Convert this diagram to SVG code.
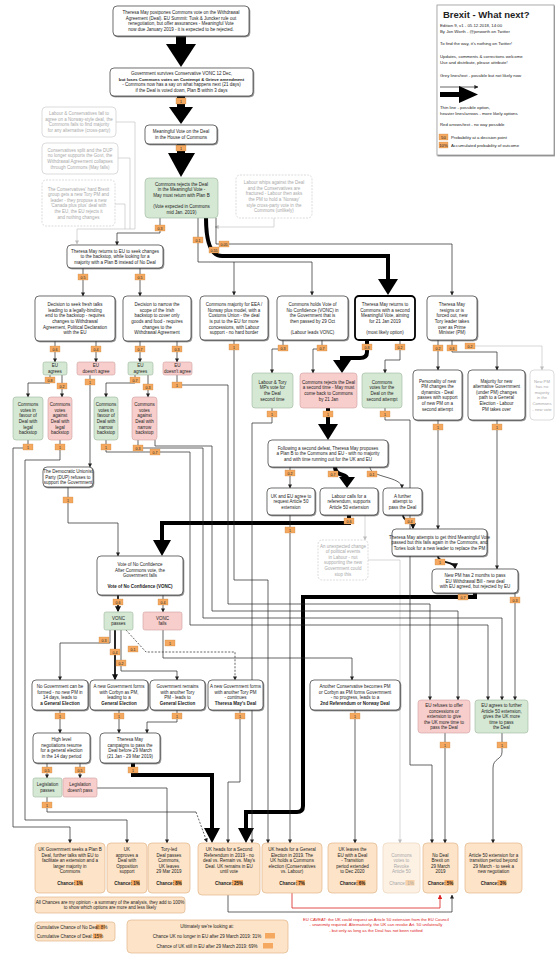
<svg xmlns="http://www.w3.org/2000/svg" width="555" height="957" viewBox="0 0 555 957">
<defs>
<style>
text{font-family:"Liberation Sans",Arial,sans-serif;font-size:4.5px;fill:#222;text-anchor:middle}
.b{font-weight:bold}
.n{fill:#fff;stroke:#333;stroke-width:.7;filter:url(#sh)}
.nt{fill:#fff;stroke:#000;stroke-width:1.8}
.gn{fill:#d5e8d4;stroke:#9bb59a;stroke-width:.6}
.rd{fill:#f8cecc;stroke:#cfa0a0;stroke-width:.6}
.oc{fill:#fde4c8;stroke:#e0b689;stroke-width:.7}
.ocg{fill:#fdf1e4;stroke:#ecd6bd;stroke-width:.7}
.gy{fill:#fff;stroke:#c4c4c4;stroke-width:.6}
.gyd{fill:#fff;stroke:#c4c4c4;stroke-width:.6;stroke-dasharray:2 1.2}
.gt text{fill:#a8a8a8}
.rt{fill:#d22}
.l{fill:none;stroke:#222;stroke-width:.7;marker-end:url(#a)}
.ln{fill:none;stroke:#222;stroke-width:.7}
.ld{fill:none;stroke:#222;stroke-width:.7;stroke-dasharray:2 1.5;marker-end:url(#a)}
.lm{fill:none;stroke:#111;stroke-width:1.8;marker-end:url(#am)}
.lg{fill:none;stroke:#bdbdbd;stroke-width:.6;marker-end:url(#ag)}
.lr{fill:none;stroke:#d22;stroke-width:.8;marker-end:url(#ar)}
.tk{fill:none;stroke:#000;stroke-width:4}
.hd{fill:#000}
.lb rect{fill:#f4a860;stroke:#c8843c;stroke-width:.3}
.lb text{font-size:3.6px;fill:#222}
.hl{fill:#f4a860}
.lt text{text-anchor:start;font-size:4.3px}
</style>
<filter id="sh" x="-10%" y="-10%" width="130%" height="140%"><feDropShadow dx="0.8" dy="0.9" stdDeviation="0.3" flood-color="#444" flood-opacity="0.7"/></filter>
<marker id="a" viewBox="0 0 10 10" refX="9" refY="5" markerWidth="4" markerHeight="4" markerUnits="userSpaceOnUse" orient="auto"><path d="M0,0L10,5L0,10z" fill="#222"/></marker>
<marker id="am" viewBox="0 0 10 10" refX="8" refY="5" markerWidth="6" markerHeight="6" markerUnits="userSpaceOnUse" orient="auto"><path d="M0,0L10,5L0,10z" fill="#111"/></marker>
<marker id="ag" viewBox="0 0 10 10" refX="9" refY="5" markerWidth="4" markerHeight="4" markerUnits="userSpaceOnUse" orient="auto"><path d="M0,0L10,5L0,10z" fill="#bdbdbd"/></marker>
<marker id="ar" viewBox="0 0 10 10" refX="9" refY="5" markerWidth="4.5" markerHeight="4.5" markerUnits="userSpaceOnUse" orient="auto"><path d="M0,0L10,5L0,10z" fill="#d22"/></marker>
</defs>
<rect width="555" height="957" fill="#fff"/>

<g id="connectors">
<rect class="hd" x="176" y="36" width="10" height="10"/><polygon class="hd" points="166,44 196,44 181,67"/>
<rect class="hd" x="177" y="96" width="8" height="12"/><polygon class="hd" points="169,107 193,107 181,124"/>
<rect class="hd" x="177" y="144" width="8" height="10"/><polygon class="hd" points="168,153 195,153 181,177"/>
<path class="ln" style="stroke:#bdbdbd;stroke-width:.6" d="M116,122H135V229M118,158H130V229M115,204H125V229"/>
<path class="lg" d="M135,229H77V244"/>
<path class="lg" d="M274,218V227H215"/>
<path class="lg" d="M465,346H542V370"/>
<path class="lg" d="M365,515V540"/>
<path class="lg" d="M368,560H400V843"/>
<path class="tk" d="M206,218C206,240 210,256 222,256H388V280"/><polygon class="hd" points="378,279 398,279 388,295"/>
<path class="tk" d="M367,340V352Q367,358 360,358H342V361"/><polygon class="hd" points="333,360 351,360 342,373"/>
<path class="tk" d="M328,408V425"/><polygon class="hd" points="318,424 338,424 328,440"/>
<path class="tk" d="M335,467C335,476 347,474 347,478"/><polygon class="hd" points="339,477 355,477 347,488"/>
<path class="tk" d="M349,515V523H162V541"/><polygon class="hd" points="153,540 171,540 162,556"/>
<path class="tk" d="M475,593V597H303V806Q303,812 297,812H246V829"/><polygon class="hd" points="238,828 254,828 246,843"/>
<path class="tk" d="M133,763V775H212V829"/><polygon class="hd" points="204,828 220,828 212,843"/>
<path class="lm" d="M118,595V611"/>
<path class="lm" d="M115,630V679"/>
<path class="lm" d="M403,515C403,522 413,520 413,528"/>
<path class="lm" d="M438,556C438,564 455,561 455,568"/>
<path class="l" d="M160,218V233H117V245"/>
<path class="l" d="M198,218V262H312V295"/>
<path class="l" d="M234,262V295"/>
<path class="l" d="M216,218V244H452V295"/>
<path class="l" d="M83,268V296"/>
<path class="l" d="M140,268V296"/>
<path class="l" d="M55,341V362"/>
<path class="l" d="M96,341V362"/>
<path class="l" d="M140,341V362"/>
<path class="l" d="M177,341V362"/>
<path class="l" d="M50,375V383H28V397"/>
<path class="l" d="M62,375V397"/>
<path class="l" d="M135,375V383H106V397"/>
<path class="l" d="M148,375V397"/>
<path class="l" d="M90,375V467"/>
<path class="l" d="M177,375V385H228V604H430V700"/>
<path class="l" d="M28,440V448H13V827H70V843"/>
<path class="l" d="M60,440V460H25V820H127V843"/>
<path class="l" d="M106,440V452H190V625H488V700"/>
<path class="l" d="M138,440V448H203V618H502V700"/>
<path class="l" d="M155,440V446H212V611H458V700"/>
<path class="l" d="M68,487V523H118V556"/>
<path class="l" d="M163,595V612"/>
<path class="l" d="M110,630V643H60V680"/>
<path class="l" d="M121,630V671H177V680"/>
<path class="ld" d="M126,630L146,652H235V680"/>
<path class="l" d="M163,630V658H352V680"/>
<path class="l" d="M60,710V733"/>
<path class="l" d="M119,710V733"/>
<path class="l" d="M177,710V722H147V733"/>
<path class="l" d="M240,710V782H228V843"/>
<path class="l" d="M355,710V843"/>
<path class="l" d="M47,763V778"/>
<path class="l" d="M80,763V778"/>
<path class="ln" d="M47,797V812H196"/>
<path class="ld" d="M196,812L207,842"/>
<path class="l" d="M97,788H167V843"/>
<path class="l" d="M290,515V843"/>
<path class="l" d="M290,467V488"/>
<path class="l" d="M370,467C370,478 402,476 402,488"/>
<path class="l" d="M438,340V370"/>
<path class="l" d="M452,340V352H497V370"/>
<path class="l" d="M283,340V349H272V373"/>
<path class="l" d="M322,340V349H313V373"/>
<path class="l" d="M400,340V360H385V373"/>
<path class="l" d="M234,340V580H268V843"/>
<path class="l" d="M272,408V423H252V843"/>
<path class="l" d="M385,408V420H410V765H432V843"/>
<path class="l" d="M438,420V529"/>
<path class="l" d="M497,420V569"/>
<path class="l" d="M515,593V700"/>
<path class="l" d="M445,733V843"/>
<path class="l" d="M502,733V752C502,760 493,758 493,768V843"/>
<path class="l" d="M228,893V912H452V895"/>
<path class="lr" d="M292,893V908H440V895"/>
<g class="lb">
<rect x="176" y="98" width="10" height="6"/><text x="181" y="102.5">1</text>
<rect x="176" y="145" width="10" height="6"/><text x="181" y="149.5">1</text>
<rect x="155" y="225" width="10" height="6"/><text x="160" y="229.5">0.3</text>
<rect x="193" y="237" width="10" height="6"/><text x="198" y="241.5">0.1</text>
<rect x="219" y="241" width="10" height="6"/><text x="224" y="245.5">0.05</text>
<rect x="209" y="247" width="10" height="6"/><text x="214" y="251.5">0.55</text>
<rect x="78" y="274" width="10" height="6"/><text x="83" y="278.5">0.5</text>
<rect x="135" y="274" width="10" height="6"/><text x="140" y="278.5">0.5</text>
<rect x="50" y="346" width="10" height="6"/><text x="55" y="350.5">0.6</text>
<rect x="91" y="346" width="10" height="6"/><text x="96" y="350.5">0.4</text>
<rect x="135" y="346" width="10" height="6"/><text x="140" y="350.5">0.7</text>
<rect x="172" y="346" width="10" height="6"/><text x="177" y="350.5">0.3</text>
<rect x="45" y="377" width="10" height="6"/><text x="50" y="381.5">0.8</text>
<rect x="57" y="383" width="10" height="6"/><text x="62" y="387.5">0.2</text>
<rect x="85" y="379" width="10" height="6"/><text x="90" y="383.5">1</text>
<rect x="130" y="377" width="10" height="6"/><text x="135" y="381.5">0.7</text>
<rect x="143" y="384" width="10" height="6"/><text x="148" y="388.5">0.3</text>
<rect x="172" y="382" width="10" height="6"/><text x="177" y="386.5">1</text>
<rect x="23" y="444" width="10" height="6"/><text x="28" y="448.5">1</text>
<rect x="55" y="444" width="10" height="6"/><text x="60" y="448.5">1</text>
<rect x="101" y="444" width="10" height="6"/><text x="106" y="448.5">1</text>
<rect x="133" y="445" width="10" height="6"/><text x="138" y="449.5">0.3</text>
<rect x="150" y="449" width="10" height="6"/><text x="155" y="453.5">0.7</text>
<rect x="63" y="497" width="10" height="6"/><text x="68" y="501.5">1</text>
<rect x="113" y="599" width="10" height="6"/><text x="118" y="603.5">0.6</text>
<rect x="158" y="599" width="10" height="6"/><text x="163" y="603.5">0.4</text>
<rect x="99" y="637" width="10" height="6"/><text x="104" y="641.5">0.3</text>
<rect x="110" y="649" width="10" height="6"/><text x="115" y="653.5">0.4</text>
<rect x="116" y="660" width="10" height="6"/><text x="121" y="664.5">0.2</text>
<rect x="128" y="646" width="10" height="6"/><text x="133" y="650.5">0.1</text>
<rect x="165" y="640" width="10" height="6"/><text x="170" y="644.5">1</text>
<rect x="55" y="713" width="10" height="6"/><text x="60" y="717.5">1</text>
<rect x="114" y="713" width="10" height="6"/><text x="119" y="717.5">1</text>
<rect x="172" y="713" width="10" height="6"/><text x="177" y="717.5">1</text>
<rect x="235" y="713" width="10" height="6"/><text x="240" y="717.5">1</text>
<rect x="350" y="713" width="10" height="6"/><text x="355" y="717.5">1</text>
<rect x="42" y="767" width="10" height="6"/><text x="47" y="771.5">0.5</text>
<rect x="75" y="767" width="10" height="6"/><text x="80" y="771.5">0.5</text>
<rect x="128" y="767" width="10" height="6"/><text x="133" y="771.5">1</text>
<rect x="42" y="802" width="10" height="6"/><text x="47" y="806.5">1</text>
<rect x="285" y="470" width="10" height="6"/><text x="290" y="474.5">0.2</text>
<rect x="328" y="471" width="10" height="6"/><text x="333" y="475.5">0.7</text>
<rect x="367" y="471" width="10" height="6"/><text x="372" y="475.5">0.1</text>
<rect x="285" y="527" width="10" height="6"/><text x="290" y="531.5">1</text>
<rect x="344" y="518" width="10" height="6"/><text x="349" y="522.5">0.6</text>
<rect x="405" y="518" width="10" height="6"/><text x="410" y="522.5">0.4</text>
<rect x="435" y="559" width="10" height="6"/><text x="440" y="563.5">1</text>
<rect x="458" y="594" width="10" height="6"/><text x="463" y="598.5">0.7</text>
<rect x="510" y="597" width="10" height="6"/><text x="515" y="601.5">0.3</text>
<rect x="433" y="345" width="10" height="6"/><text x="438" y="349.5">0.2</text>
<rect x="447" y="345" width="10" height="6"/><text x="452" y="349.5">0.6</text>
<rect x="465" y="343" width="10" height="6"/><text x="470" y="347.5">0.2</text>
<rect x="278" y="345" width="10" height="6"/><text x="283" y="349.5">0.3</text>
<rect x="317" y="345" width="10" height="6"/><text x="322" y="349.5">0.7</text>
<rect x="362" y="344" width="10" height="6"/><text x="367" y="348.5">0.8</text>
<rect x="395" y="344" width="10" height="6"/><text x="400" y="348.5">0.2</text>
<rect x="229" y="344" width="10" height="6"/><text x="234" y="348.5">1</text>
<rect x="267" y="411" width="10" height="6"/><text x="272" y="415.5">1</text>
<rect x="323" y="411" width="10" height="6"/><text x="328" y="415.5">1</text>
<rect x="380" y="411" width="10" height="6"/><text x="385" y="415.5">1</text>
<rect x="433" y="424" width="10" height="6"/><text x="438" y="428.5">1</text>
<rect x="492" y="424" width="10" height="6"/><text x="497" y="428.5">1</text>
<rect x="440" y="742" width="10" height="6"/><text x="445" y="746.5">1</text>
<rect x="497" y="742" width="10" height="6"/><text x="502" y="746.5">1</text>
</g>
</g>

<g id="legend" class="lt">
<rect x="437" y="5" width="117" height="150" fill="#fff" stroke="#999" stroke-width=".8" filter="url(#sh)"/>
<text x="443" y="18" style="font-size:9.5px;font-weight:bold">Brexit - What next?</text>
<text x="440" y="27">Edition 9, v1 - 05.12.2018, 14:00</text>
<text x="440" y="32.5">By Jon Worth - @jonworth on Twitter</text>
<text x="440" y="45">To find the way, it's nothing on Twitter!</text>
<text x="440" y="58">Updates, comments &amp; corrections welcome</text>
<text x="440" y="63.5">Use and distribute, please attribute!</text>
<text x="440" y="77">Grey lines/text - possible but not likely now</text>
<path d="M440,87H478" stroke="#222" stroke-width=".7" marker-end="url(#a)"/>
<rect x="440" y="92" width="20" height="5" fill="#000"/><polygon points="459,86 478,94.5 459,103" fill="#000"/>
<text x="440" y="109">Thin line - possible option,</text>
<text x="440" y="114.5">heavier lines/arrows - more likely options</text>
<text x="440" y="126">Red arrows/text - no way possible</text>
<g class="lb"><rect x="439" y="134" width="9" height="6"/><text x="443.5" y="138.5" style="text-anchor:middle">50</text></g>
<text x="451" y="138.5">Probability at a decision point</text>
<g class="lb"><rect x="439" y="142" width="9" height="6"/><text x="443.5" y="146.5" style="text-anchor:middle">10%</text></g>
<text x="451" y="146.5">Accumulated probability of outcome</text>
</g>

<g id="n1"><rect class="n" x="113" y="6" width="136" height="30" rx="4"/>
<text><tspan x="181" y="14.2">Theresa May postpones Commons vote on the Withdrawal</tspan><tspan x="181" y="19.8">Agreement (Deal). EU Summit: Tusk &amp; Juncker rule out</tspan><tspan x="181" y="25.4">renegotiation, but offer assurances - Meaningful Vote</tspan><tspan x="181" y="31">now due January 2019 - it is expected to be rejected.</tspan></text></g>

<g id="n2"><rect class="n" x="110" y="68" width="143" height="28" rx="4"/>
<text><tspan x="181.5" y="75.2">Government survives Conservative VONC 12 Dec,</tspan><tspan x="181.5" y="80.8" class="b" style="font-size:4.3px">but loses Commons votes on Contempt &amp; Grieve amendment</tspan><tspan x="181.5" y="86.4">- Commons now has a say on what happens next (21 days)</tspan><tspan x="181.5" y="92">if the Deal is voted down, Plan B within 3 days</tspan></text></g>

<g id="n3"><rect class="n" x="145" y="125" width="72" height="19" rx="4"/>
<text><tspan x="181" y="133.3">Meaningful Vote on the Deal</tspan><tspan x="181" y="138.9">in the House of Commons</tspan></text></g>

<g id="n4"><rect class="gn" x="145" y="178" width="73" height="40" rx="4"/>
<text><tspan x="181.5" y="185.6">Commons rejects the Deal</tspan><tspan x="181.5" y="191.2">in the Meaningful Vote -</tspan><tspan x="181.5" y="196.8">May must return with Plan B</tspan><tspan x="181.5" y="208">(Vote expected in Commons</tspan><tspan x="181.5" y="213.6">mid Jan. 2019)</tspan></text></g>

<g id="g1" class="gt"><rect class="gy" x="42" y="107" width="74" height="30" rx="4"/>
<text><tspan x="79" y="115.2">Labour &amp; Conservatives fail to</tspan><tspan x="79" y="120.8">agree on a Norway-style deal, the</tspan><tspan x="79" y="126.4">Commons fails to find majority</tspan><tspan x="79" y="132">for any alternative (cross-party)</tspan></text></g>

<g id="g2" class="gt"><rect class="gy" x="42" y="143" width="76" height="31" rx="4"/>
<text><tspan x="80" y="151.7">Conservatives split and the DUP</tspan><tspan x="80" y="157.3">no longer supports the Govt, the</tspan><tspan x="80" y="162.9">Withdrawal Agreement collapses</tspan><tspan x="80" y="168.5">through Commons (May falls)</tspan></text></g>

<g id="g3" class="gt"><rect class="gyd" x="42" y="180" width="73" height="46" rx="4"/>
<text><tspan x="78.5" y="190.6">The Conservatives' hard Brexit</tspan><tspan x="78.5" y="196.2">group gets a new Tory PM and</tspan><tspan x="78.5" y="201.8">leader - they propose a new</tspan><tspan x="78.5" y="207.4">'Canada plus plus' deal with</tspan><tspan x="78.5" y="213">the EU, the EU rejects it</tspan><tspan x="78.5" y="218.6">and nothing changes</tspan></text></g>

<g id="gr" class="gt"><rect class="gyd" x="236" y="175" width="76" height="43" rx="4"/>
<text><tspan x="274" y="184.1">Labour whips against the Deal</tspan><tspan x="274" y="189.7">and the Conservatives are</tspan><tspan x="274" y="195.3">fractured - Labour then asks</tspan><tspan x="274" y="200.9">the PM to hold a 'Norway'</tspan><tspan x="274" y="206.5">style cross-party vote in the</tspan><tspan x="274" y="212.1">Commons (unlikely)</tspan></text></g>

<g id="d"><rect class="n" x="67" y="245" width="96" height="23" rx="4"/>
<text><tspan x="115" y="252.5">Theresa May returns to EU to seek changes</tspan><tspan x="115" y="258.1">to the backstop, while looking for a</tspan><tspan x="115" y="263.7">majority with a Plan B instead of No Deal</tspan></text></g>

<g id="ra"><rect class="n" x="35" y="296" width="80" height="45" rx="4"/>
<text><tspan x="75" y="306.1">Decision to seek fresh talks</tspan><tspan x="75" y="311.7">leading to a legally-binding</tspan><tspan x="75" y="317.3">end to the backstop - requires</tspan><tspan x="75" y="322.9">changes to Withdrawal</tspan><tspan x="75" y="328.5">Agreement, Political Declaration</tspan><tspan x="75" y="334.1">with the EU</tspan></text></g>

<g id="rb"><rect class="n" x="123" y="296" width="68" height="45" rx="4"/>
<text><tspan x="157" y="306.1">Decision to narrow the</tspan><tspan x="157" y="311.7">scope of the Irish</tspan><tspan x="157" y="317.3">backstop to cover only</tspan><tspan x="157" y="322.9">goods and food - requires</tspan><tspan x="157" y="328.5">changes to the</tspan><tspan x="157" y="334.1">Withdrawal Agreement</tspan></text></g>

<g id="rc"><rect class="n" x="200" y="296" width="68" height="44" rx="4"/>
<text><tspan x="234" y="306.1">Commons majority for EEA /</tspan><tspan x="234" y="311.7">Norway plus model, with a</tspan><tspan x="234" y="317.3">Customs Union - the deal</tspan><tspan x="234" y="322.9">is put to the EU for more</tspan><tspan x="234" y="328.5">concessions, with Labour</tspan><tspan x="234" y="334.1">support - no hard border</tspan></text></g>

<g id="rd"><rect class="n" x="277" y="296" width="71" height="44" rx="4"/>
<text><tspan x="312.5" y="306.1">Commons holds Vote of</tspan><tspan x="312.5" y="311.7">No Confidence (VONC) in</tspan><tspan x="312.5" y="317.3">the Government that is</tspan><tspan x="312.5" y="322.9">then passed by 29 Oct</tspan><tspan x="312.5" y="334.1">(Labour leads VONC)</tspan></text></g>

<g id="re"><rect class="nt" x="355" y="296" width="60" height="44" rx="4"/>
<text><tspan x="385" y="306.1">Theresa May returns to</tspan><tspan x="385" y="311.7">Commons with a second</tspan><tspan x="385" y="317.3">Meaningful Vote, aiming</tspan><tspan x="385" y="322.9">for 21 Jan 2019</tspan><tspan x="385" y="334.1">(most likely option)</tspan></text></g>

<g id="rf"><rect class="n" x="427" y="296" width="50" height="44" rx="4"/>
<text><tspan x="452" y="306.1">Theresa May</tspan><tspan x="452" y="311.7">resigns or is</tspan><tspan x="452" y="317.3">forced out, new</tspan><tspan x="452" y="322.9">Tory leader takes</tspan><tspan x="452" y="328.5">over as Prime</tspan><tspan x="452" y="334.1">Minister (PM)</tspan></text></g>

<g id="eua"><rect class="gn" x="43" y="362" width="24" height="13" rx="2"/><text><tspan x="55" y="367.3">EU</tspan><tspan x="55" y="372.9">agrees</tspan></text></g>
<g id="eud"><rect class="rd" x="77" y="362" width="38" height="13" rx="2"/><text><tspan x="96" y="367.3">EU</tspan><tspan x="96" y="372.9">doesn't agree</tspan></text></g>
<g id="eua2"><rect class="gn" x="128" y="362" width="25" height="13" rx="2"/><text><tspan x="140.5" y="367.3">EU</tspan><tspan x="140.5" y="372.9">agrees</tspan></text></g>
<g id="eud2"><rect class="rd" x="163" y="362" width="29" height="13" rx="2"/><text><tspan x="177.5" y="367.3">EU</tspan><tspan x="177.5" y="372.9">doesn't agree</tspan></text></g>

<g id="cga"><rect class="gn" x="13" y="397" width="30" height="43" rx="3"/><text><tspan x="28" y="406.1">Commons</tspan><tspan x="28" y="411.7">votes in</tspan><tspan x="28" y="417.3">favour of</tspan><tspan x="28" y="422.9">Deal with</tspan><tspan x="28" y="428.5">legal</tspan><tspan x="28" y="434.1">backstop</tspan></text></g>
<g id="cra"><rect class="rd" x="48" y="397" width="24" height="43" rx="3"/><text><tspan x="60" y="406.1">Commons</tspan><tspan x="60" y="411.7">votes</tspan><tspan x="60" y="417.3">against</tspan><tspan x="60" y="422.9">Deal with</tspan><tspan x="60" y="428.5">legal</tspan><tspan x="60" y="434.1">backstop</tspan></text></g>
<g id="cgb"><rect class="gn" x="94" y="397" width="24" height="43" rx="3"/><text><tspan x="106" y="406.1">Commons</tspan><tspan x="106" y="411.7">votes in</tspan><tspan x="106" y="417.3">favour of</tspan><tspan x="106" y="422.9">Deal with</tspan><tspan x="106" y="428.5">narrow</tspan><tspan x="106" y="434.1">backstop</tspan></text></g>
<g id="crb"><rect class="rd" x="132" y="397" width="25" height="43" rx="3"/><text><tspan x="144.5" y="406.1">Commons</tspan><tspan x="144.5" y="411.7">votes</tspan><tspan x="144.5" y="417.3">against</tspan><tspan x="144.5" y="422.9">Deal with</tspan><tspan x="144.5" y="428.5">narrow</tspan><tspan x="144.5" y="434.1">backstop</tspan></text></g>

<g id="gl"><rect class="gn" x="252" y="373" width="41" height="35" rx="3"/><text><tspan x="272.5" y="383.7">Labour &amp; Tory</tspan><tspan x="272.5" y="389.3">MPs vote for</tspan><tspan x="272.5" y="394.9">the Deal</tspan><tspan x="272.5" y="400.5">second time</tspan></text></g>
<g id="rm"><rect class="rd" x="300" y="373" width="57" height="35" rx="3"/><text><tspan x="328.5" y="383.7">Commons rejects the Deal</tspan><tspan x="328.5" y="389.3">a second time - May must</tspan><tspan x="328.5" y="394.9">come back to Commons</tspan><tspan x="328.5" y="400.5">by 21 Jan</tspan></text></g>
<g id="gr2"><rect class="gn" x="362" y="373" width="40" height="35" rx="3"/><text><tspan x="382" y="383.7">Commons</tspan><tspan x="382" y="389.3">votes for the</tspan><tspan x="382" y="394.9">Deal on the</tspan><tspan x="382" y="400.5">second attempt</tspan></text></g>

<g id="pers"><rect class="n" x="413" y="370" width="49" height="50" rx="4"/><text><tspan x="437.5" y="382.6">Personality of new</tspan><tspan x="437.5" y="388.2">PM changes the</tspan><tspan x="437.5" y="393.8">dynamics - Deal</tspan><tspan x="437.5" y="399.4">passes with support</tspan><tspan x="437.5" y="405">of new PM on a</tspan><tspan x="437.5" y="410.6">second attempt</tspan></text></g>
<g id="maj"><rect class="n" x="468" y="370" width="57" height="50" rx="4"/><text><tspan x="496.5" y="382.6">Majority for new</tspan><tspan x="496.5" y="388.2">alternative Government</tspan><tspan x="496.5" y="393.8">(under PM) changes</tspan><tspan x="496.5" y="399.4">path to a General</tspan><tspan x="496.5" y="405">Election - Labour</tspan><tspan x="496.5" y="410.6">PM takes over</tspan></text></g>
<g id="gry" class="gt"><rect class="gy" x="530" y="370" width="24" height="50" rx="4"/><text style="font-size:4.2px"><tspan x="542" y="382.6">New PM</tspan><tspan x="542" y="388.2">has no</tspan><tspan x="542" y="393.8">majority</tspan><tspan x="542" y="399.4">in the</tspan><tspan x="542" y="405">Commons</tspan><tspan x="542" y="410.6">- new vote</tspan></text></g>

<g id="central"><rect class="n" x="268" y="440" width="120" height="27" rx="4"/><text><tspan x="328" y="449.5">Following a second defeat, Theresa May proposes</tspan><tspan x="328" y="455.1">a Plan B to the Commons and EU - with no majority</tspan><tspan x="328" y="460.7">and with time running out for the UK and EU</tspan></text></g>

<g id="dup"><rect class="n" x="43" y="467" width="50" height="20" rx="4"/><text><tspan x="68" y="473">The Democratic Unionist</tspan><tspan x="68" y="478.6">Party (DUP) refuses to</tspan><tspan x="68" y="484.2">support the Government</tspan></text></g>

<g id="cl"><rect class="n" x="267" y="488" width="48" height="27" rx="4"/><text><tspan x="291" y="497.5">UK and EU agree to</tspan><tspan x="291" y="503.1">request Article 50</tspan><tspan x="291" y="508.7">extension</tspan></text></g>
<g id="cm"><rect class="n" x="320" y="488" width="58" height="27" rx="4"/><text><tspan x="349" y="497.5">Labour calls for a</tspan><tspan x="349" y="503.1">referendum, supports</tspan><tspan x="349" y="508.7">Article 50 extension</tspan></text></g>
<g id="cr"><rect class="n" x="383" y="488" width="39" height="27" rx="4"/><text><tspan x="402.5" y="497.5">A further</tspan><tspan x="402.5" y="503.1">attempt to</tspan><tspan x="402.5" y="508.7">pass the Deal</tspan></text></g>

<g id="p3"><rect class="n" x="392" y="529" width="95" height="27" rx="4"/><text><tspan x="439.5" y="538.5">Theresa May attempts to get third Meaningful Vote</tspan><tspan x="439.5" y="544.1">passed but this fails again in the Commons, and</tspan><tspan x="439.5" y="549.7">Tories look for a new leader to replace the PM</tspan></text></g>
<g id="np"><rect class="n" x="432" y="569" width="86" height="24" rx="4"/><text><tspan x="475" y="577">New PM has 2 months to pass</tspan><tspan x="475" y="582.6">EU Withdrawal Bill - new deal</tspan><tspan x="475" y="588.2">with EU agreed, but rejected by EU</tspan></text></g>
<g id="gmid" class="gt"><rect class="gyd" x="318" y="540" width="50" height="40" rx="4"/><text><tspan x="343" y="547.6">An unexpected change</tspan><tspan x="343" y="553.2">of political events</tspan><tspan x="343" y="558.8">in Labour - not</tspan><tspan x="343" y="564.4">supporting the new</tspan><tspan x="343" y="570">Government could</tspan><tspan x="343" y="575.6">stop this</tspan></text></g>

<g id="vonc"><rect class="n" x="97" y="556" width="86" height="39" rx="4"/><text><tspan x="140" y="565.9">Vote of No Confidence</tspan><tspan x="140" y="571.5">After Commons vote, the</tspan><tspan x="140" y="577.1">Government falls</tspan><tspan x="140" y="588.3" class="b">Vote of No Confidence (VONC)</tspan></text></g>
<g id="vp"><rect class="gn" x="104" y="612" width="29" height="18" rx="2"/><text><tspan x="118.5" y="619.8">VONC</tspan><tspan x="118.5" y="625.4">passes</tspan></text></g>
<g id="vf"><rect class="rd" x="143" y="612" width="39" height="18" rx="2"/><text><tspan x="162.5" y="619.8">VONC</tspan><tspan x="162.5" y="625.4">fails</tspan></text></g>

<g id="b1"><rect class="n" x="32" y="680" width="56" height="30" rx="4"/><text><tspan x="60" y="688.2">No Government can be</tspan><tspan x="60" y="693.8">formed - no new PM in</tspan><tspan x="60" y="699.4">14 days, leads to</tspan><tspan x="60" y="705" class="b">a General Election</tspan></text></g>
<g id="b2"><rect class="n" x="90" y="680" width="58" height="30" rx="4"/><text><tspan x="119" y="688.2">A new Government forms</tspan><tspan x="119" y="693.8">with Corbyn as PM,</tspan><tspan x="119" y="699.4">leading to a</tspan><tspan x="119" y="705" class="b">General Election</tspan></text></g>
<g id="b3"><rect class="n" x="150" y="680" width="55" height="30" rx="4"/><text><tspan x="177.5" y="688.2">Government remains</tspan><tspan x="177.5" y="693.8">with another Tory</tspan><tspan x="177.5" y="699.4">PM - leads to</tspan><tspan x="177.5" y="705" class="b">General Election</tspan></text></g>
<g id="b4"><rect class="n" x="208" y="680" width="55" height="30" rx="4"/><text><tspan x="235.5" y="688.2">A new Government forms</tspan><tspan x="235.5" y="693.8">with another Tory PM</tspan><tspan x="235.5" y="699.4">- continues</tspan><tspan x="235.5" y="705" class="b">Theresa May's Deal</tspan></text></g>
<g id="b5"><rect class="n" x="310" y="680" width="90" height="30" rx="4"/><text><tspan x="355" y="688.2">Another Conservative becomes PM</tspan><tspan x="355" y="693.8">or Corbyn as PM forms Government</tspan><tspan x="355" y="699.4">- no progress, leads to a</tspan><tspan x="355" y="705" class="b">2nd Referendum or Norway Deal</tspan></text></g>

<g id="eur"><rect class="rd" x="418" y="700" width="52" height="33" rx="3"/><text><tspan x="444" y="706.9">EU refuses to offer</tspan><tspan x="444" y="712.5">concessions or</tspan><tspan x="444" y="718.1">extension to give</tspan><tspan x="444" y="723.7">the UK more time to</tspan><tspan x="444" y="729.3">pass the Deal</tspan></text></g>
<g id="eug"><rect class="gn" x="475" y="700" width="53" height="33" rx="3"/><text><tspan x="501.5" y="706.9">EU agrees to further</tspan><tspan x="501.5" y="712.5">Article 50 extension,</tspan><tspan x="501.5" y="718.1">gives the UK more</tspan><tspan x="501.5" y="723.7">time to pass</tspan><tspan x="501.5" y="729.3">the Deal</tspan></text></g>

<g id="hl"><rect class="n" x="33" y="733" width="57" height="30" rx="4"/><text><tspan x="61.5" y="741.2">High level</tspan><tspan x="61.5" y="746.8">negotiations resume</tspan><tspan x="61.5" y="752.4">for a general election</tspan><tspan x="61.5" y="758">in the 14 day period</tspan></text></g>
<g id="mb"><rect class="n" x="100" y="733" width="60" height="30" rx="4"/><text><tspan x="130" y="741.2">Theresa May</tspan><tspan x="130" y="746.8">campaigns to pass the</tspan><tspan x="130" y="752.4">Deal before 29 March</tspan><tspan x="130" y="758">(21 Jan - 29 Mar 2019)</tspan></text></g>
<g id="lp"><rect class="gn" x="33" y="778" width="29" height="19" rx="2"/><text><tspan x="47.5" y="786.3">Legislation</tspan><tspan x="47.5" y="791.9">passes</tspan></text></g>
<g id="lf"><rect class="rd" x="63" y="778" width="34" height="19" rx="2"/><text><tspan x="80" y="786.3">Legislation</tspan><tspan x="80" y="791.9">doesn't pass</tspan></text></g>

<g id="o1"><rect class="oc" x="35" y="843" width="70" height="50" rx="4"/><text><tspan x="70" y="851">UK Government seeks a Plan B</tspan><tspan x="70" y="856.6">Deal, further talks with EU to</tspan><tspan x="70" y="862.2">facilitate an extension and a</tspan><tspan x="70" y="867.8">larger majority in</tspan><tspan x="70" y="873.4">Commons</tspan></text><rect class="hl" x="74" y="880" width="9" height="5.5"/><text x="70" y="884.5" class="b">Chance: 1%</text></g>
<g id="o2"><rect class="oc" x="107" y="843" width="40" height="50" rx="4"/><text><tspan x="127" y="851">UK</tspan><tspan x="127" y="856.6">approves a</tspan><tspan x="127" y="862.2">Deal with</tspan><tspan x="127" y="867.8">Opposition</tspan><tspan x="127" y="873.4">support</tspan></text><rect class="hl" x="131" y="880" width="9" height="5.5"/><text x="127" y="884.5" class="b">Chance: 1%</text></g>
<g id="o3"><rect class="oc" x="148" y="843" width="42" height="50" rx="4"/><text><tspan x="169" y="851">Tory-led</tspan><tspan x="169" y="856.6">Deal passes</tspan><tspan x="169" y="862.2">Commons,</tspan><tspan x="169" y="867.8">UK leaves</tspan><tspan x="169" y="873.4">29 Mar 2019</tspan></text><rect class="hl" x="173" y="880" width="9" height="5.5"/><text x="169" y="884.5" class="b">Chance: 8%</text></g>
<g id="o4"><rect class="oc" x="198" y="843" width="62" height="52" rx="4"/><text><tspan x="229" y="851">UK heads for a Second</tspan><tspan x="229" y="856.6">Referendum in 2019 - no</tspan><tspan x="229" y="862.2">deal vs. Remain vs. May's</tspan><tspan x="229" y="867.8">Deal. UK remains in EU</tspan><tspan x="229" y="873.4">until vote</tspan></text><rect class="hl" x="232" y="880" width="11" height="5.5"/><text x="229" y="884.5" class="b">Chance: 25%</text></g>
<g id="o5"><rect class="oc" x="262" y="843" width="60" height="50" rx="4"/><text><tspan x="292" y="851">UK heads for a General</tspan><tspan x="292" y="856.6">Election in 2019. The</tspan><tspan x="292" y="862.2">UK holds a Commons</tspan><tspan x="292" y="867.8">election (Conservatives</tspan><tspan x="292" y="873.4">vs. Labour)</tspan></text><rect class="hl" x="296" y="880" width="9" height="5.5"/><text x="292" y="884.5" class="b">Chance: 7%</text></g>
<g id="o6"><rect class="oc" x="328" y="843" width="49" height="50" rx="4"/><text><tspan x="352.5" y="851">UK leaves the</tspan><tspan x="352.5" y="856.6">EU with a Deal</tspan><tspan x="352.5" y="862.2">- Transition</tspan><tspan x="352.5" y="867.8">period extended</tspan><tspan x="352.5" y="873.4">to Dec 2020</tspan></text><rect class="hl" x="356.5" y="880" width="9" height="5.5"/><text x="352.5" y="884.5" class="b">Chance: 6%</text></g>
<g id="o7" class="gt"><rect class="ocg" x="383" y="843" width="37" height="50" rx="4"/><text><tspan x="401.5" y="856.6">Commons</tspan><tspan x="401.5" y="862.2">votes to</tspan><tspan x="401.5" y="867.8">Revoke</tspan><tspan x="401.5" y="873.4">Article 50</tspan></text><rect x="405.5" y="880" width="9" height="5.5" fill="#f8d2a8"/><text x="401.5" y="884.5">Chance: 1%</text></g>
<g id="o8"><rect class="oc" x="423" y="843" width="35" height="50" rx="4"/><text><tspan x="440.5" y="856.6">No Deal</tspan><tspan x="440.5" y="862.2">Brexit on</tspan><tspan x="440.5" y="867.8">29 March</tspan><tspan x="440.5" y="873.4">2019</tspan></text><rect class="hl" x="444.5" y="880" width="9" height="5.5"/><text x="440.5" y="884.5" class="b">Chance: 5%</text></g>
<g id="o9"><rect class="oc" x="465" y="843" width="57" height="50" rx="4"/><text><tspan x="493.5" y="856.6">Article 50 extension for a</tspan><tspan x="493.5" y="862.2">transition period beyond</tspan><tspan x="493.5" y="867.8">29 March - to seek a</tspan><tspan x="493.5" y="873.4">new negotiation</tspan></text><rect class="hl" x="497.5" y="880" width="9" height="5.5"/><text x="493.5" y="884.5" class="b">Chance: 3%</text></g>

<g id="foot"><rect class="oc" x="35" y="897" width="150" height="16" rx="3"/><text><tspan x="110" y="903.8">All Chances are my opinion - a summary of the analysis, they add to 100%</tspan><tspan x="110" y="909.4">to show which options are more and less likely</tspan></text></g>
<g id="cum"><rect class="oc" x="35" y="922" width="80" height="19" rx="3"/><rect class="hl" x="96" y="924.5" width="9" height="5"/><rect class="hl" x="93" y="933.5" width="9" height="5"/><text><tspan x="72" y="928.5">Cumulative Chance of No Deal: 8%</tspan><tspan x="70" y="937.5">Cumulative Chance of Deal: 15%</tspan></text></g>
<g id="ult"><rect class="oc" x="127" y="920" width="161" height="33" rx="4"/><rect class="hl" x="265" y="933" width="10" height="5.5"/><rect class="hl" x="263" y="943" width="10" height="5.5"/><text><tspan x="207" y="928">Ultimately we're looking at:</tspan><tspan x="207" y="937.5">Chance UK no longer in EU after 29 March 2019: 31%</tspan><tspan x="207" y="947.5">Chance of UK still in EU after 29 March 2019: 69%</tspan></text></g>
<g id="caveat"><text class="rt" style="font-size:4.2px"><tspan x="376" y="920.5" class="rt">EU CAVEAT: the UK could request an Article 50 extension from the EU Council</tspan><tspan x="376" y="926" class="rt">- unanimity required. Alternatively, the UK can revoke Art. 50 unilaterally</tspan><tspan x="376" y="931.5" class="rt">- but only as long as the Deal has not been ratified</tspan></text></g>
</svg>
